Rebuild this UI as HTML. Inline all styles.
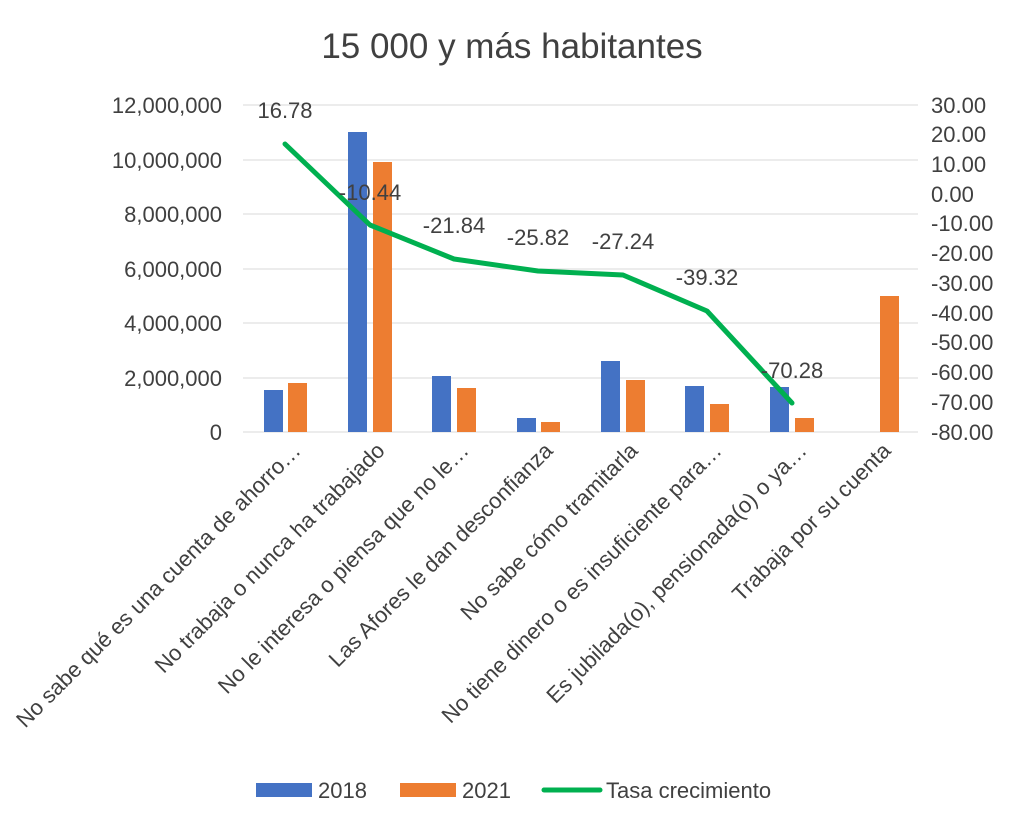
<!DOCTYPE html>
<html><head><meta charset="utf-8"><style>
body{margin:0;background:#fff;}
svg text{font-family:"Liberation Sans",sans-serif;fill:#404040;}
</style></head><body>
<svg width="1024" height="828" xmlns="http://www.w3.org/2000/svg">
<text x="512" y="58" font-size="35" text-anchor="middle" fill="#404040">15 000 y más habitantes</text>
<g stroke="#d9d9d9" stroke-width="1">
<line x1="243" x2="918" y1="105" y2="105"/><line x1="243" x2="918" y1="160" y2="160"/>
<line x1="243" x2="918" y1="214" y2="214"/><line x1="243" x2="918" y1="269" y2="269"/>
<line x1="243" x2="918" y1="323" y2="323"/><line x1="243" x2="918" y1="378" y2="378"/>
<line x1="243" x2="918" y1="432" y2="432"/>
</g>
<g font-size="22" text-anchor="end">
<text x="222" y="113">12,000,000</text><text x="222" y="168">10,000,000</text>
<text x="222" y="222">8,000,000</text><text x="222" y="277">6,000,000</text>
<text x="222" y="331">4,000,000</text><text x="222" y="386">2,000,000</text>
<text x="222" y="440">0</text>
</g>
<g font-size="22" text-anchor="start">
<text x="931" y="113">30.00</text><text x="931" y="142">20.00</text><text x="931" y="172">10.00</text>
<text x="931" y="202">0.00</text><text x="931" y="231">-10.00</text><text x="931" y="261">-20.00</text>
<text x="931" y="291">-30.00</text><text x="931" y="321">-40.00</text><text x="931" y="350">-50.00</text>
<text x="931" y="380">-60.00</text><text x="931" y="410">-70.00</text><text x="931" y="440">-80.00</text>
</g>
<g fill="#4472c4">
<rect x="264" y="390" width="19" height="42"/>
<rect x="348" y="132" width="19" height="300"/>
<rect x="432" y="376" width="19" height="56"/>
<rect x="517" y="418" width="19" height="14"/>
<rect x="601" y="361" width="19" height="71"/>
<rect x="685" y="386" width="19" height="46"/>
<rect x="770" y="387" width="19" height="45"/>
</g>
<g fill="#ed7d31">
<rect x="288" y="383" width="19" height="49"/>
<rect x="373" y="162" width="19" height="270"/>
<rect x="457" y="388" width="19" height="44"/>
<rect x="541" y="422" width="19" height="10"/>
<rect x="626" y="380" width="19" height="52"/>
<rect x="710" y="404" width="19" height="28"/>
<rect x="795" y="418" width="19" height="14"/>
<rect x="880" y="296" width="19" height="136"/>
</g>
<polyline points="285,144 370,225 454,259 538,271 623,275 707,311 792,403" fill="none" stroke="#00b050" stroke-width="5" stroke-linejoin="round" stroke-linecap="round"/>
<g font-size="22" text-anchor="middle" fill="#404040">
<text x="285" y="118">16.78</text><text x="370" y="200">-10.44</text><text x="454" y="233">-21.84</text>
<text x="538" y="245">-25.82</text><text x="623" y="249">-27.24</text><text x="707" y="285">-39.32</text>
<text x="792" y="378">-70.28</text>
</g>
<g font-size="22" text-anchor="end">
<text transform="translate(302,452) rotate(-45)">No sabe qué es una cuenta de ahorro…</text>
<text transform="translate(386,452) rotate(-45)">No trabaja o nunca ha trabajado</text>
<text transform="translate(470,452) rotate(-45)">No le interesa o piensa que no le…</text>
<text transform="translate(554,452) rotate(-45)">Las Afores le dan desconfianza</text>
<text transform="translate(639,452) rotate(-45)">No sabe cómo tramitarla</text>
<text transform="translate(723,452) rotate(-45)">No tiene dinero o es insuficiente para…</text>
<text transform="translate(808,452) rotate(-45)">Es jubilada(o), pensionada(o) o ya…</text>
<text transform="translate(892,452) rotate(-45)">Trabaja por su cuenta</text>
</g>
<rect x="256" y="783" width="56" height="14" fill="#4472c4"/>
<text x="318" y="798" font-size="22">2018</text>
<rect x="400" y="783" width="56" height="14" fill="#ed7d31"/>
<text x="462" y="798" font-size="22">2021</text>
<line x1="544" x2="600" y1="790" y2="790" stroke="#00b050" stroke-width="5" stroke-linecap="round"/>
<text x="606" y="798" font-size="22">Tasa crecimiento</text>
</svg>
</body></html>
